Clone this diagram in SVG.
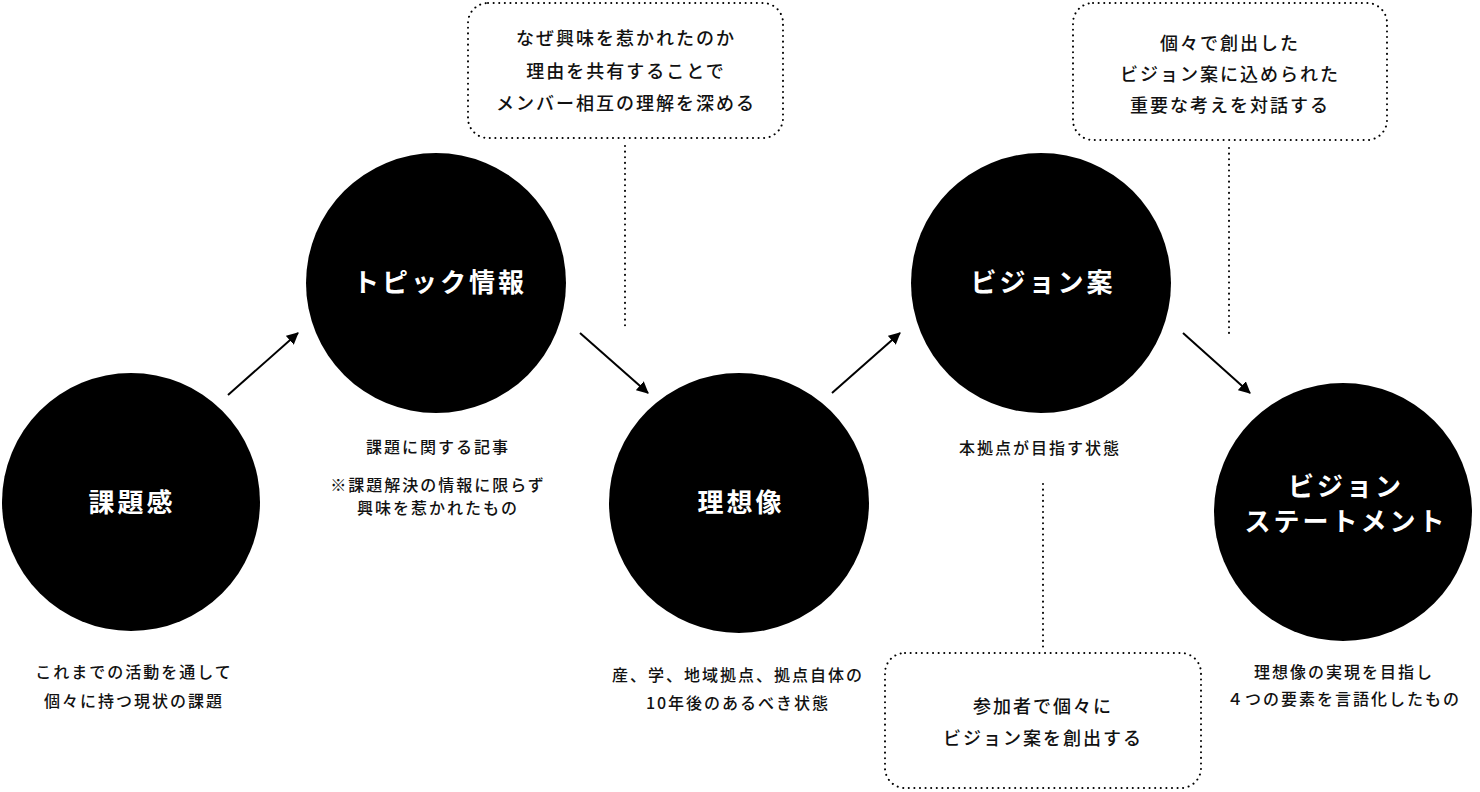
<svg xmlns="http://www.w3.org/2000/svg" width="1480" height="792" viewBox="0 0 1480 792">
<defs>
<marker id="ah" markerWidth="12" markerHeight="12" refX="11" refY="6" orient="auto" markerUnits="userSpaceOnUse">
<path d="M0,0 L12,6 L0,12 z" fill="#000"/>
</marker>
<style>
.c{fill:#000}
.t{font-family:"Noto Sans CJK JP","Noto Sans",sans-serif;font-weight:700;fill:#fff;font-size:26px;text-anchor:middle;letter-spacing:3px}
.s{font-family:"Noto Sans CJK JP","Noto Sans",sans-serif;font-weight:500;fill:#111;font-size:16px;text-anchor:middle;letter-spacing:2px}
.b{font-family:"Noto Sans CJK JP","Noto Sans",sans-serif;font-weight:500;fill:#111;font-size:18px;text-anchor:middle;letter-spacing:2px}
.d{fill:none;stroke:#000;stroke-width:2;stroke-dasharray:0.1 5.5;stroke-linecap:round}
.a{stroke:#000;stroke-width:2;fill:none;marker-end:url(#ah)}
</style>
</defs>
<rect width="1480" height="792" fill="#fff"/>
<g id="connectors">
<line class="a" x1="228" y1="395" x2="298" y2="333"/>
<line class="a" x1="580" y1="333" x2="648" y2="393"/>
<line class="a" x1="832" y1="393" x2="900" y2="333"/>
<line class="a" x1="1183" y1="333" x2="1250" y2="393"/>
<line class="d" x1="625" y1="146" x2="625" y2="326"/>
<line class="d" x1="1229" y1="148" x2="1229" y2="334"/>
<line class="d" x1="1043" y1="484" x2="1043" y2="648"/>
</g>
<g id="n1">
<circle class="c" cx="131" cy="502" r="129"/>
<text class="t" x="132" y="512">課題感</text>
<text class="s" x="134" y="678">これまでの活動を通して</text>
<text class="s" x="134" y="707">個々に持つ現状の課題</text>
</g>
<g id="n2">
<circle class="c" cx="436" cy="283" r="130"/>
<text class="t" x="440" y="292">トピック情報</text>
<text class="s" x="438" y="453">課題に関する記事</text>
<text class="s" x="438" y="491">※課題解決の情報に限らず</text>
<text class="s" x="438" y="514">興味を惹かれたもの</text>
</g>
<g id="n3">
<circle class="c" cx="739" cy="503" r="130"/>
<text class="t" x="741" y="512">理想像</text>
<text class="s" x="738" y="681">産、学、地域拠点、拠点自体の</text>
<text class="s" x="738" y="709">10年後のあるべき状態</text>
</g>
<g id="n4">
<circle class="c" cx="1041" cy="283" r="130"/>
<text class="t" x="1043" y="292">ビジョン案</text>
<text class="s" x="1040" y="454">本拠点が目指す状態</text>
</g>
<g id="n5">
<circle class="c" cx="1343" cy="512" r="129"/>
<text class="t" x="1346" y="496">ビジョン</text>
<text class="t" x="1346" y="531">ステートメント</text>
<text class="s" x="1344" y="678">理想像の実現を目指し</text>
<text class="s" x="1344" y="705">４つの要素を言語化したもの</text>
</g>
<g id="note1">
<rect class="d" x="468" y="3" width="315" height="135" rx="20"/>
<text class="b" x="626" y="45">なぜ興味を惹かれたのか</text>
<text class="b" x="626" y="78">理由を共有することで</text>
<text class="b" x="626" y="110">メンバー相互の理解を深める</text>
</g>
<g id="note2">
<rect class="d" x="1073" y="3" width="314" height="137" rx="20"/>
<text class="b" x="1230" y="50">個々で創出した</text>
<text class="b" x="1230" y="81">ビジョン案に込められた</text>
<text class="b" x="1230" y="112">重要な考えを対話する</text>
</g>
<g id="note3">
<rect class="d" x="885" y="653" width="316" height="135" rx="20"/>
<text class="b" x="1043" y="713">参加者で個々に</text>
<text class="b" x="1043" y="745">ビジョン案を創出する</text>
</g>
</svg>
